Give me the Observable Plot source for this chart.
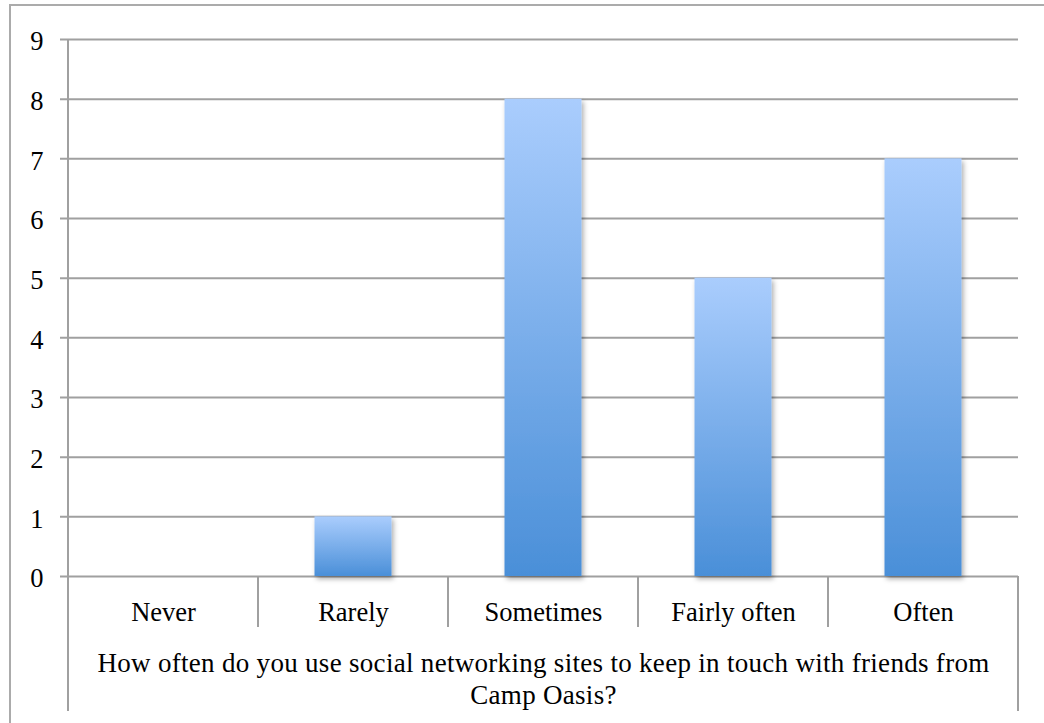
<!DOCTYPE html>
<html>
<head>
<meta charset="utf-8">
<script src="https://cdn.jsdelivr.net/npm/d3@7"></script>
<script src="https://cdn.jsdelivr.net/npm/@observablehq/plot@0.6"></script>
<style>
  html, body { margin: 0; padding: 0; background: #fff; }
  #chart { position: relative; width: 1044px; height: 723px; overflow: hidden; }
  #frame { position: absolute; left: 9px; top: 4px; right: -10px; bottom: -10px;
           border-left: 2px solid #ababab; border-top: 2px solid #ababab; pointer-events: none; }
  #chart svg { position: absolute; left: 0; top: 0; }
</style>
</head>
<body>
<div id="chart"><div id="frame"></div></div>
<script>
// Survey responses
const categories = ["Never", "Rarely", "Sometimes", "Fairly often", "Often"];
const counts = [0, 1, 8, 5, 7];
const yTicks = [0, 1, 2, 3, 4, 5, 6, 7, 8, 9];
const titleLines = [
  "How often do you use social networking sites to keep in touch with friends from",
  "Camp Oasis?"
];

const data = categories.map((category, i) => ({category, count: counts[i]}));

const font = "'Liberation Serif', 'Times New Roman', serif";
const fontSize = 26.5;
const titleSize = 27;
const lineColor = "#a0a0a0";
const tableRowDepth = 51;   // height of the category row under the axis
const tableDepth = 135;     // total depth of the category table

// gradient fill and soft shadow for the columns
function defs() {
  const d = d3.create("svg:defs");
  const g = d.append("linearGradient").attr("id", "colGrad")
    .attr("x1", 0).attr("y1", 0).attr("x2", 0).attr("y2", 1);
  g.append("stop").attr("offset", "0%").attr("stop-color", "#aacdfd");
  g.append("stop").attr("offset", "100%").attr("stop-color", "#4a8fd8");
  const f = d.append("filter").attr("id", "colShadow")
    .attr("x", "-20%").attr("y", "-20%").attr("width", "140%").attr("height", "140%");
  f.append("feDropShadow").attr("dx", 2).attr("dy", 3).attr("stdDeviation", 2.5)
    .attr("flood-color", "#000").attr("flood-opacity", 0.32);
  return d.node();
}

// category table lines below the value axis
function categoryTable(index, scales, values, dims) {
  const x = scales.x, y = scales.y;
  const y0 = y(0);
  const left = dims.marginLeft;
  const right = dims.width - dims.marginRight;
  const g = d3.create("svg:g")
    .attr("stroke", lineColor).attr("stroke-width", 2).attr("fill", "none");
  // value axis line, continued down the table
  g.append("line").attr("x1", left).attr("x2", left).attr("y1", y(9)).attr("y2", y0 + tableDepth);
  g.append("line").attr("x1", right).attr("x2", right).attr("y1", y0).attr("y2", y0 + tableDepth);
  for (const c of categories.slice(1)) {
    g.append("line").attr("x1", x(c)).attr("x2", x(c)).attr("y1", y0).attr("y2", y0 + tableRowDepth);
  }
  return g.node();
}

const plot = Plot.plot({
  width: 1044,
  height: 723,
  marginLeft: 68,
  marginRight: 26,
  marginTop: 39,
  marginBottom: 147,
  style: {fontFamily: font, fontSize: fontSize + "px", color: "#000", background: "transparent", overflow: "visible"},
  x: {domain: categories, padding: 0, axis: null},
  y: {domain: [0, 9], axis: null},
  marks: [
    defs,
    Plot.ruleY(yTicks, {stroke: lineColor, strokeWidth: 2, insetLeft: -8}),
    Plot.barY(data, {x: "category", y: "count", insetLeft: 56.5, insetRight: 56.5, fill: "url(#colGrad)"}),
    categoryTable,
    Plot.text(yTicks, {y: d => d, text: d => String(d), frameAnchor: "left", textAnchor: "end",
                       dx: -25, dy: 2.5, fill: "#000"}),
    Plot.text(categories, {x: d => d, text: d => d, frameAnchor: "bottom", lineAnchor: "bottom",
                           dy: 44, fill: "#000"}),
    Plot.text([titleLines.join("\n")], {text: d => d, frameAnchor: "bottom", lineAnchor: "bottom",
                           fontSize: titleSize, lineHeight: 32 / titleSize, dy: 127, fill: "#000"})
  ]
});

d3.select(plot).selectAll("rect").filter(function () {
  return this.getAttribute("fill") === "url(#colGrad)" || (this.parentNode && this.parentNode.getAttribute("fill") === "url(#colGrad)");
}).attr("filter", "url(#colShadow)");

// slightly open tracking on the axis title
d3.select(plot).selectAll("text").filter(function () {
  return this.textContent.startsWith(titleLines[0].slice(0, 10));
}).attr("letter-spacing", "0.3px");

document.getElementById("chart").appendChild(plot);
</script>
</body>
</html>
